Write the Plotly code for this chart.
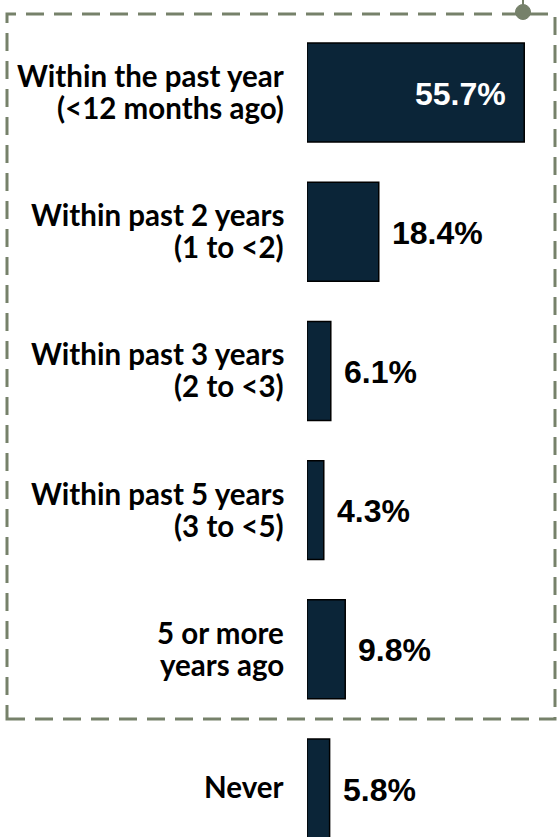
import plotly.graph_objects as go

# data
categories = [
    "Within the past year<br>(<12 months ago)",
    "Within past 2 years<br>(1 to <2)",
    "Within past 3 years<br>(2 to <3)",
    "Within past 5 years<br>(3 to <5)",
    "5 or more<br>years ago",
    "Never",
]
values = [55.7, 18.4, 6.1, 4.3, 9.8, 5.8]
labels = [f"{v:.1f}%" for v in values]

bar_color = "#0b2538"
frame_color = "#76816a"

fig = go.Figure(go.Bar(
    y=categories, x=values, orientation="h",
    marker=dict(color=bar_color, line=dict(color="black", width=1.5)),
    hoverinfo="x+y",
))

W, H = 557, 837
left = 307

fig.update_layout(
    width=W, height=H,
    margin=dict(l=left, r=0, t=0, b=0),
    paper_bgcolor="white", plot_bgcolor="white",
    bargap=0.289,
    showlegend=False,
    xaxis=dict(range=[0, 64.1], visible=False, fixedrange=True),
    yaxis=dict(type="category", range=[5.348, -0.6645], visible=False),
)

# category labels, right aligned next to the bars (one annotation per line
# so the line spacing can follow the original)
label_font = dict(family="Lato", size=29.5, weight="bold", color="black")
for cat in categories:
    lines = cat.split("<br>")
    shifts = [17, -15] if len(lines) == 2 else [2]
    for line, dy in zip(lines, shifts):
        fig.add_annotation(
            x=0, xref="paper", y=cat, yref="y",
            text=line, showarrow=False, xanchor="right", align="right",
            xshift=-21, yshift=dy, font=label_font,
        )

# value labels
for i, (cat, v, lab) in enumerate(zip(categories, values, labels)):
    inside = i == 0
    fig.add_annotation(
        x=v, y=cat, text=lab, showarrow=False,
        xanchor="right" if inside else "left",
        xshift=-16 if inside else 11, yshift=-1,
        font=dict(family="Liberation Sans", size=32, weight="bold",
                  color="white" if inside else "black"),
    )

def px_x(p):
    return (p - left) / (W - left)

def px_y(p):
    return 1 - p / H

# dashed frame around the first five categories
dash = "18px,10px"
fig.add_shape(type="rect", xref="paper", yref="paper",
              x0=px_x(7), x1=px_x(555), y0=px_y(719), y1=px_y(14),
              line=dict(color=frame_color, width=3, dash=dash))
fig.add_shape(type="line", xref="paper", yref="paper",
              x0=px_x(523), x1=px_x(523), y0=px_y(12), y1=px_y(0),
              line=dict(color=frame_color, width=2))
fig.add_shape(type="circle", xref="paper", yref="paper",
              x0=px_x(515.5), x1=px_x(530.5), y0=px_y(19.5), y1=px_y(4.5),
              fillcolor=frame_color, line=dict(color=frame_color, width=1))

fig.write_html("out.html", config={"displayModeBar": False},
               post_script="document.body.style.margin='0';")
